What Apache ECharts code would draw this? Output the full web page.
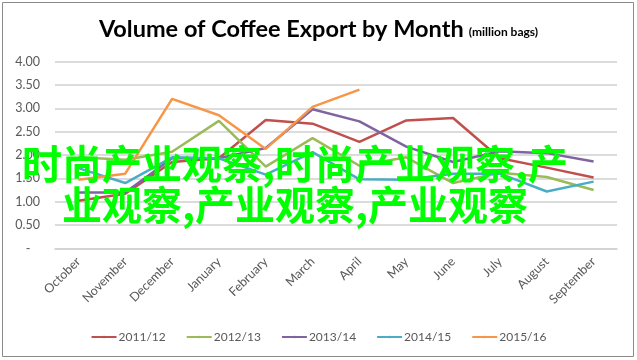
<!DOCTYPE html>
<html>
<head>
<meta charset="utf-8">
<script src="https://cdn.jsdelivr.net/npm/echarts@6/dist/echarts.min.js"></script>
<style>
html,body{margin:0;padding:0;background:#fff;}
#c{width:637px;height:360px;}
</style>
</head>
<body>
<div id="c"></div>
<script>
var months = ['October','November','December','January','February','March','April','May','June','July','August','September'];
var seriesNames = ['2011/12','2012/13','2013/14','2014/15','2015/16'];
var s2011 = [1.02, 1.17, 1.85, 1.93, 2.75, 2.67, 2.28, 2.74, 2.79, 1.93, 1.73, 1.52];
var s2012 = [1.95, 1.90, 2.07, 2.73, 1.75, 2.36, 1.77, 1.95, 1.40, 1.62, 1.53, 1.25];
var s2013 = [1.20, 1.20, 1.93, 1.93, 2.15, 2.98, 2.72, 2.18, 1.85, 2.08, 2.04, 1.86];
var s2014 = [1.72, 1.40, 1.95, 1.93, 1.58, 2.06, 1.48, 1.47, 1.60, 1.60, 1.22, 1.43];
var s2015 = [1.47, 1.60, 3.20, 2.85, 2.13, 3.03, 3.40, null, null, null, null, null];
var yTicks = [0, 0.5, 1, 1.5, 2, 2.5, 3, 3.5, 4];
var titleMain = 'Volume of Coffee Export by Month';
var titleUnit = '(million bags)';
var overlayText = '时尚产业观察,时尚产业观察,产\n业观察,产业观察,产业观察';

var colors = ['#C0504D', '#9BBB59', '#8064A2', '#4BACC6', '#F79646'];
var allData = [s2011, s2012, s2013, s2014, s2015];
var font = 'Lato, "Open Sans", sans-serif';

var chart = echarts.init(document.getElementById('c'));
chart.setOption({
  animation: false,
  backgroundColor: '#fff',
  color: colors,
  title: {
    left: 'center',
    top: 12,
    text: '{a|' + titleMain + '} {b|' + titleUnit + '}',
    textStyle: {
      rich: {
        a: {fontFamily: font, fontSize: 23.5, fontWeight: 'bold', color: '#000'},
        b: {fontFamily: font, fontSize: 12, fontWeight: 'bold', color: '#000', padding: [7,0,0,0]}
      }
    }
  },
  legend: {
    bottom: 12,
    left: 'center',
    itemWidth: 25,
    itemHeight: 3,
    itemGap: 20,
    data: seriesNames,
    textStyle: {fontFamily: font, fontSize: 12, color: '#595959', padding: [0,0,0,-3]}
  },
  grid: {left: 55, right: 20, top: 61.5, bottom: 111.5, containLabel: false},
  xAxis: {
    type: 'category',
    data: months,
    boundaryGap: true,
    axisLine: {show: true, lineStyle: {color: '#d0d0d0', width: 1.5}},
    axisTick: {show: false},
    axisLabel: {rotate: 45, margin: 11, fontFamily: font, fontSize: 12.5, color: '#595959', interval: 0}
  },
  yAxis: {
    type: 'value',
    min: 0, max: 4, interval: 0.5,
    axisLine: {show: false},
    axisTick: {show: false},
    splitLine: {lineStyle: {color: '#d0d0d0', width: 1.5}},
    axisLabel: {
      margin: 15,
      fontFamily: font, fontSize: 12.5, color: '#595959',
      formatter: function (v) { return v === 0 ? '-   ' : v.toFixed(2); }
    }
  },
  series: seriesNames.map(function (n, i) {
    return {
      name: n,
      type: 'line',
      data: allData[i],
      symbol: 'none',
      showSymbol: false,
      connectNulls: false,
      lineStyle: {width: 2.5, color: colors[i]},
      itemStyle: {color: colors[i]},
      z: 2 + i
    };
  }),
  graphic: [
    {type: 'rect', z: 100, silent: true, shape: {x: 2.5, y: 2.5, width: 631, height: 354},
     style: {fill: 'none', stroke: '#8a8a8a', lineWidth: 1}},
    {type: 'text', z: 101, silent: true, x: 295, y: 143,
     style: {text: overlayText, fontFamily: '"Noto Sans CJK SC", sans-serif', fontSize: 40, fontWeight: 'bold',
       fill: '#00ff00', align: 'center', verticalAlign: 'top', lineHeight: 41}}
  ]
});
</script>
</body>
</html>
